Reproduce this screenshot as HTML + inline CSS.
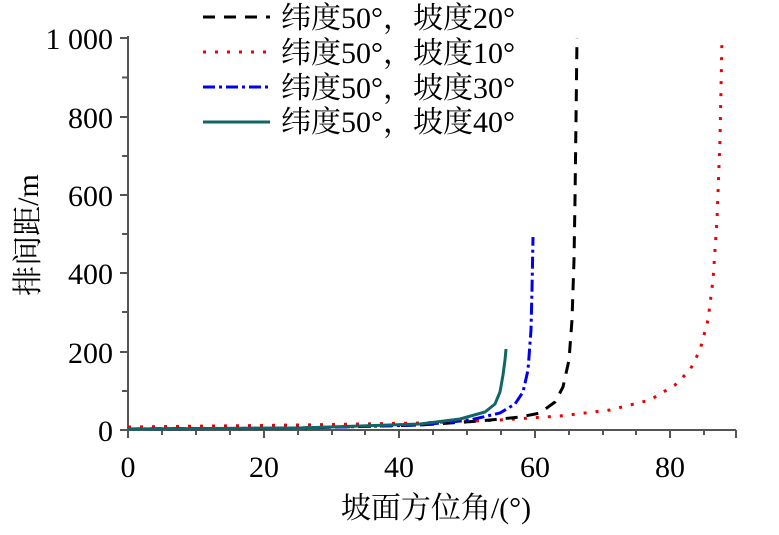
<!DOCTYPE html>
<html><head><meta charset="utf-8"><style>
body{margin:0;background:#fff;}
svg{display:block;font-family:"Liberation Serif","Noto Serif CJK SC",serif;}
</style></head><body>
<svg width="779" height="535" viewBox="0 0 779 535">
<g stroke="#555" stroke-width="2" fill="none">
<line x1="128" y1="36" x2="128" y2="431"/>
<line x1="127" y1="430" x2="736" y2="430"/>
<path d="M120 38H128M120 117H128M120 195H128M120 273H128M120 352H128M120 430H128
M122 77.5H128M122 156H128M122 234H128M122 312H128M122 391H128"/>
<path d="M128 430V438M264 430V438M399 430V438M535 430V438M670 430V438
M162 430V435M196 430V435M230 430V435M298 430V435M332 430V435M365 430V435M433 430V435M467 430V435M501 430V435M569 430V435M603 430V435M636 430V435M704 430V435M736 430V438"/>
</g>
<g font-size="30" fill="#000">
<g text-anchor="end">
<text x="113" y="49">1 000</text>
<text x="113" y="128">800</text>
<text x="113" y="206">600</text>
<text x="113" y="284">400</text>
<text x="113" y="363">200</text>
<text x="113" y="441">0</text>
</g>
<g text-anchor="middle">
<text x="128" y="477">0</text>
<text x="264" y="477">20</text>
<text x="399" y="477">40</text>
<text x="535" y="477">60</text>
<text x="670" y="477">80</text>
<text x="436" y="518">坡面方位角/(°)</text>
</g>
<text transform="translate(38,235) rotate(-90)" text-anchor="middle">排间距/m</text>
<text x="281" y="28">纬度50°，坡度20°</text>
<text x="281" y="63">纬度50°，坡度10°</text>
<text x="281" y="98">纬度50°，坡度30°</text>
<text x="281" y="132">纬度50°，坡度40°</text>
</g>
<g fill="none" stroke-width="3">
<line x1="203" y1="17" x2="270" y2="17" stroke="#000" stroke-dasharray="12,9"/>
<line x1="203" y1="52" x2="270" y2="52" stroke="#e00" stroke-dasharray="3,9"/>
<line x1="203" y1="87" x2="270" y2="87" stroke="#00e" stroke-dasharray="12,4,3,4"/>
<line x1="203" y1="122" x2="270" y2="122" stroke="#166"/>
<polyline stroke="#e00" stroke-dasharray="3,9" points="128,427 300,425 420,423 500,420 560,416 610,410 650,400 675,385 690,370 700,350 708,320 713,280 717,220 720,140 722,38"/>
<polyline stroke="#000" stroke-dasharray="12,9" points="128,429 300,428 420,425 480,421 520,417 540,413 555,402 563,387 569,360 572,320 574,260 575,200 576,120 577,38"/>
<polyline stroke="#00e" stroke-dasharray="12,4,3,4" points="128,429 300,428 420,425 470,420 500,413 515,404 523,392 528,370 531,330 532,290 533,237"/>
<polyline stroke="#166" points="128,429 300,428 420,424 460,419 485,412 495,404 500,392 503,375 505,360 506,349"/>
</g>
</svg>
</body></html>
